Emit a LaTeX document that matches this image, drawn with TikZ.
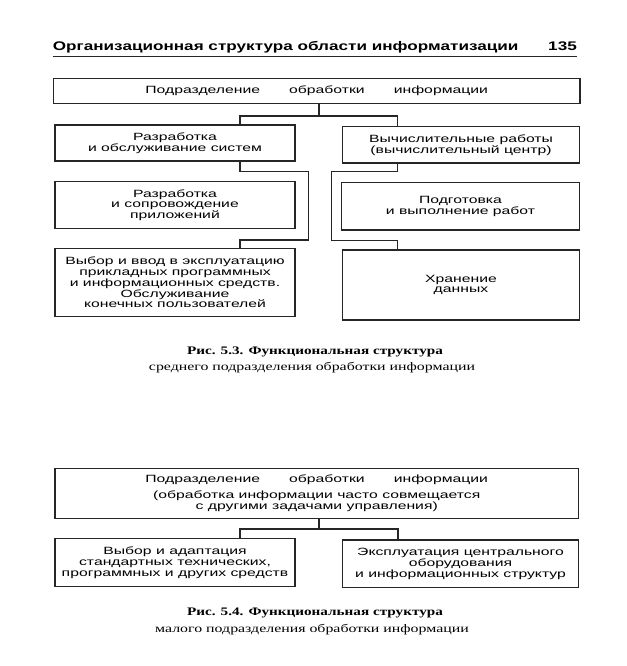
\documentclass[tikz,border=0pt]{standalone}
\usepackage{fontspec}
\setmainfont{Liberation Sans}
\newfontfamily\boxfont[FakeStretch=1.5]{Liberation Sans}
\newfontfamily\headfont[FakeStretch=1.37]{Liberation Sans}
\newfontfamily\capfont[FakeStretch=1.32]{Liberation Serif}
\newfontfamily\capregfont[FakeStretch=1.38]{Liberation Serif}
\begin{document}
\begin{tikzpicture}[x=1pt,y=-1pt,
  box/.style={draw=black!85, line width=1.2pt, align=center, inner sep=0pt,
    font=\boxfont\fontsize{10.5}{10.8}\selectfont, text=black},
  conn/.style={draw=black!85, line width=1.2pt},
  headtxt/.style={inner sep=0pt, font=\headfont\bfseries\fontsize{12.5}{14}\selectfont, text=black},
  capbold/.style={inner sep=0pt, anchor=base, font=\capfont\bfseries\fontsize{11.5}{14}\selectfont, text=black},
  capreg/.style={inner sep=0pt, anchor=base, font=\capregfont\fontsize{11.5}{14}\selectfont, text=black}]
\useasboundingbox (0,0) rectangle (626,666);
\fill[white] (0,0) rectangle (626,666);

% header
\node[headtxt, anchor=base west] (head) at (52.7,50.5) {Организационная структура области информатизации};
\node[headtxt, anchor=base east] (page) at (577,50.5) {135};
\draw[line width=1.4pt, black!85] (52.7,56.5) -- (577,56.5);

% Fig 5.3
\node[box, minimum width=526.7, minimum height=24.5] (T) at (316.7,91) {Подразделение\hspace{29pt}обработки\hspace{29pt}информации};
\node[box, minimum width=240, minimum height=36] (L1) at (175,143) {Разработка\\и обслуживание систем};
\node[box, minimum width=236.6, minimum height=36.3] (R1) at (461,144.9) {Вычислительные работы\\(вычислительный центр)};
\node[box, minimum width=240, minimum height=46.8] (L2) at (175,205.1) {Разработка\\и сопровождение\\приложений};
\node[box, minimum width=237.6, minimum height=47.3] (R2) at (460.5,206.4) {Подготовка\\и выполнение работ};
\node[box, minimum width=240, minimum height=68.4] (L3) at (175,282.5) {Выбор и ввод в эксплуатацию\\прикладных программных\\и информационных средств.\\Обслуживание\\конечных пользователей};
\node[box, minimum width=236.6, minimum height=70] (R3) at (461,285) {Хранение\\данных};

\coordinate (bus1) at (319,116);
\draw[conn] (T.south -| bus1) -- (bus1);
\draw[conn] (L1.north -| 240,0) |- (bus1) -| (R1.north -| 397.5,0);

\coordinate (lb1) at (308.3,171.7);
\coordinate (lb2) at (308.3,240);
\draw[conn] (L1.south -| 240,0) |- (lb1) -- (lb2) -| (L3.north -| 240,0);

\coordinate (rb1) at (331.5,171.7);
\coordinate (rb2) at (331.5,240.7);
\draw[conn] (R1.south -| 397.5,0) |- (rb1) -- (rb2) -| (R3.north -| 397.5,0);

\node[capbold] (c3a) at (315,354) {Рис. 5.3. Функциональная структура};
\node[capreg] (c3b) at (312,370.5) {среднего подразделения обработки информации};

% Fig 5.4
\node[box, minimum width=523.3, minimum height=50.5] (B0) at (316.7,493.5) {Подразделение\hspace{29pt}обработки\hspace{29pt}информации\\[5pt](обработка информации часто совмещается\\с другими задачами управления)};
\node[box, minimum width=240, minimum height=48.2] (BL) at (175,562.6) {Выбор и адаптация\\стандартных технических,\\программных и других средств};
\node[box, minimum width=235.6, minimum height=47.7] (BR) at (460.5,563.9) {Эксплуатация центрального\\оборудования\\и информационных структур};

\coordinate (bus2) at (319,529);
\draw[conn] (B0.south -| bus2) -- (bus2);
\draw[conn] (BL.north -| 240,0) |- (bus2) -| (BR.north -| 398,0);

\node[capbold] (c4a) at (315,615.7) {Рис. 5.4. Функциональная структура};
\node[capreg] (c4b) at (312,632.5) {малого подразделения обработки информации};
\end{tikzpicture}
\end{document}
